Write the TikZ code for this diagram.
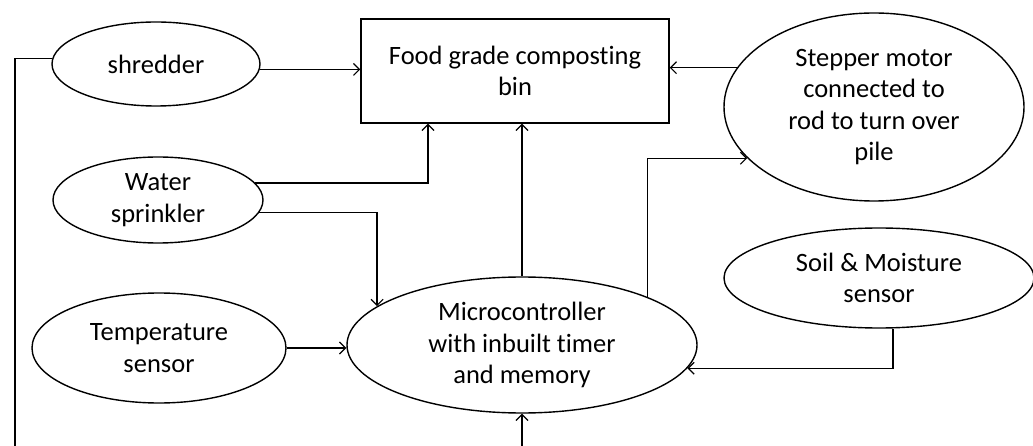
\documentclass[tikz,border=0pt]{standalone}
\usepackage{fontspec}
\setmainfont{Carlito}[Ligatures=NoCommon]
\usetikzlibrary{shapes.geometric,arrows.meta}
\begin{document}
\begin{tikzpicture}[x=1pt,y=-1pt,
  every node/.style={font=\fontsize{26.5}{31.5}\selectfont, align=center, inner sep=0pt, line width=1.4pt},
  el/.style={draw, ellipse},
  boxnode/.style={draw, rectangle},
  arr/.style={line width=1.4pt, -{Straight Barb[length=6pt,width=12pt,line width=1.2pt]}},
  ln/.style={line width=1.4pt}
]
\useasboundingbox (0,0) rectangle (1033,446);
\fill[white] (0,0) rectangle (1033,446);

\node[el, minimum width=208pt, minimum height=84pt] (shredder) at (156,64) {shredder};
\node[boxnode, minimum width=308pt, minimum height=104pt] (box) at (515,71) {Food grade composting\\bin};
\node[el, minimum width=300pt, minimum height=188pt] (stepper) at (874,107) {Stepper motor\\connected to\\rod to turn over\\pile};
\node[el, minimum width=210pt, minimum height=86pt] (water) at (158,200) {Water\\sprinkler};
\node[el, minimum width=254pt, minimum height=110pt] (temp) at (159,348) {Temperature\\sensor};
\node[el, minimum width=350pt, minimum height=136pt] (micro) at (522,345) {Microcontroller\\with inbuilt timer\\and memory};
\node[el, minimum width=310pt, minimum height=100pt] (soil) at (879,278) {Soil \& Moisture\\sensor};

\coordinate (lb) at (15,446);
\coordinate (bb) at (522,446);

\draw[arr] (shredder.-3) -- (shredder.-3 -| box.west);
\draw[arr] (stepper.164.5) -- (stepper.164.5 -| box.east);
\draw[arr] (water.10) -| ([xshift=-87pt]box.south);
\draw[arr] (water.-7) -| (micro.165);
\draw[arr] (temp.east) -- (temp.east -| micro.west);
\draw[arr] (micro.north) -- (micro.north |- box.south);
\draw[arr] (micro.21) |- (stepper.202);
\draw[arr] ([xshift=14pt]soil.south) |- (micro.-8);
\draw[ln] (shredder.177) -| (lb);
\draw[arr] (bb) -- (micro.south);
\end{tikzpicture}
\end{document}
